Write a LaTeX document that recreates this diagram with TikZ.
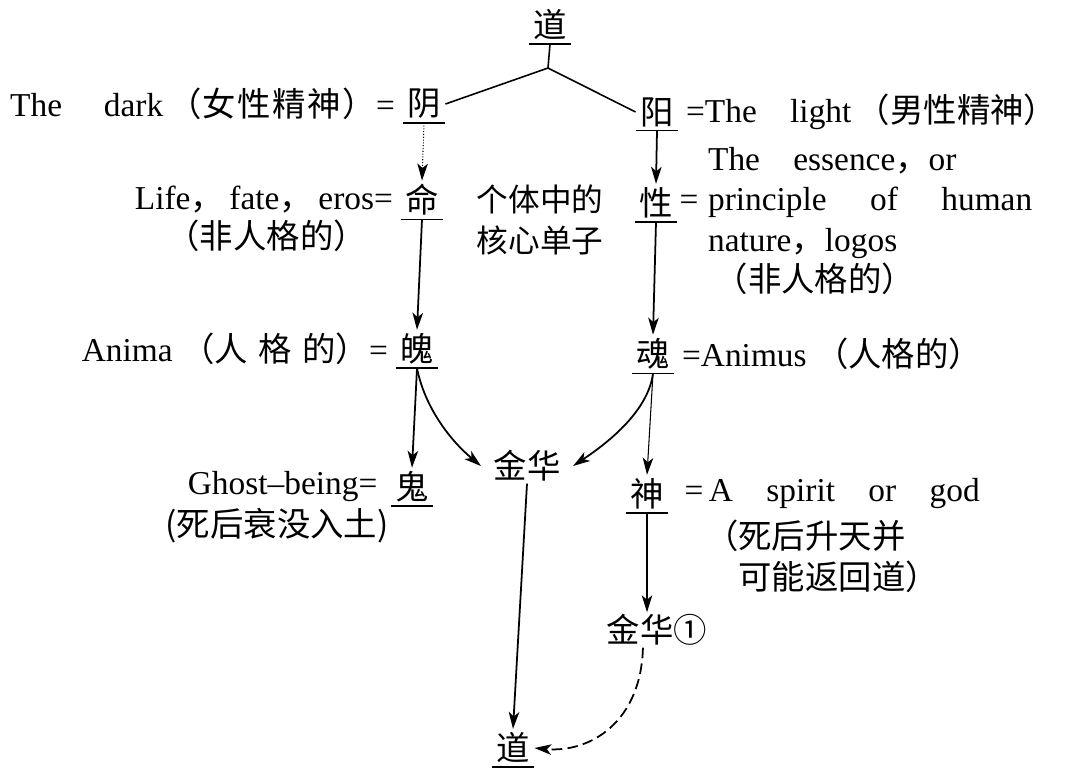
\documentclass[tikz,border=0pt]{standalone}
\usepackage{fontspec}
\setmainfont{Liberation Serif}
\newfontfamily\cjk{Noto Sans CJK SC}
\usetikzlibrary{arrows.meta,positioning}
\tikzset{
  >={Stealth[length=3.4mm,width=2.1mm,inset=0.9mm]},
  key/.style={font=\cjk\fontsize{19}{23}\selectfont,inner xsep=2.5pt,inner ysep=2pt},
  lbl/.style={font=\fontsize{19}{23}\selectfont,inner sep=1pt},
  uline/.style={line width=0.9pt},
  conn/.style={->,line width=1pt},
  lightarr/.style={->,line width=0.6pt},
}
\newcommand{\zh}[1]{{\cjk\fontsize{19}{23}\selectfont #1}}

\begin{document}
\begin{tikzpicture}[x=0.02cm,y=-0.02cm]
\useasboundingbox (0,0) rectangle (1065,769);

% ---- key characters (underlined) ----
\node[key] (daotop) at (550,25) {道};
\node[key] (yin) at (424,104) {阴};
\node[key] (yang) at (657,112) {阳};
\node[key] (ming) at (422,200) {命};
\node[key] (xing) at (656,203) {性};
\node[key] (po) at (417,349) {魄};
\node[key] (hun) at (653,354) {魂};
\node[key] (gui) at (412,487) {鬼};
\node[key] (shen) at (647,494) {神};
\node[key] (dao) at (513,748) {道};
\node[key,inner xsep=7pt,inner ysep=1pt] (jinhua) at (527,466) {金华};
\node[key,inner ysep=1pt] (jinhua2) at (657,630) {金华①};
\foreach \n in {daotop,yin,yang,ming,xing,po,hun,gui,shen,dao}
  \draw[uline] (\n.south west) -- (\n.south east);

% ---- labels ----
\node[lbl,left=0pt of yin] {The\quad\ dark\,\zh{（女\hspace{1pt}性\hspace{1pt}精\hspace{1pt}神\hspace{1pt}）}=\,};
\node[lbl,right=0pt of yang] {\,=The\quad light\,\zh{（男性精神）}};
\node[lbl,left=0pt of ming] (life) {Life\zh{，}\,fate\zh{，}\,eros=\,};
\node[lbl,below=1pt of life] {\zh{（非人格的）}};
\node[lbl,align=center,font=\cjk\fontsize{18}{23}\selectfont] (monad) at (540,220) {个体中的\\核心单子};
\node[lbl,right=0pt of xing] (xingeq) {=};
\node[lbl,anchor=north west,align=left] (essence) at (706,145)
  {The\quad essence\zh{，}or\\principle\hspace{1.3em}of\hspace{1.3em}human\\nature\zh{，}logos\\\hspace{0.2em}\zh{（非人格的）}};
\node[lbl,left=0pt of po] {Anima\ \zh{（人\hspace{6pt}格\hspace{6pt}的）}=\,};
\node[lbl,right=0pt of hun] {\,=Animus\ \zh{（人格的）}};
\node[lbl,left=0pt of gui] (ghost) {Ghost--being=\,\,};
\node[lbl,below=1pt of ghost.south east,anchor=north east] {\zh{(死后衰没入土)}};
\node[lbl,right=0pt of shen] (spirit) {\hspace{8pt}=\,A\quad spirit\quad or\quad god};
\node[lbl,anchor=north west,align=left] at (703,518) {\zh{（死后升天并}\\\hspace{1em}\zh{可能返回道）}};

% ---- connectors ----
\coordinate (apex) at (548,68);
\draw[uline] (daotop.south) -- (apex);
\draw[uline] (apex) -- (yin.east);
\draw[uline] (apex) -- (yang.west);
\draw[lightarr,densely dotted] (yin.south) -- (ming.north);
\draw[conn] (ming.south) -- (po.north);
\draw[conn] (yang.south) -- (xing.north);
\draw[conn] (xing.south) -- (hun.north);
\draw[conn] (po.south) -- (gui.north);
\draw[conn] (po.south) .. controls +(8,40) and +(-30,-25) .. (jinhua.west);
\draw[conn] (hun.south) .. controls +(-5,40) and +(30,-20) .. (jinhua.east);
\draw[lightarr] (hun.south) -- (shen.north);
\draw[lightarr] (shen.south) -- (shen.south |- jinhua2.north);
\draw[conn] (jinhua.south) -- (dao.north);
\draw[conn,dash pattern=on 6pt off 3pt] ([xshift=-8pt]jinhua2.south) .. controls +(-2,75) and +(55,5) .. (dao.east);

\end{tikzpicture}
\end{document}
